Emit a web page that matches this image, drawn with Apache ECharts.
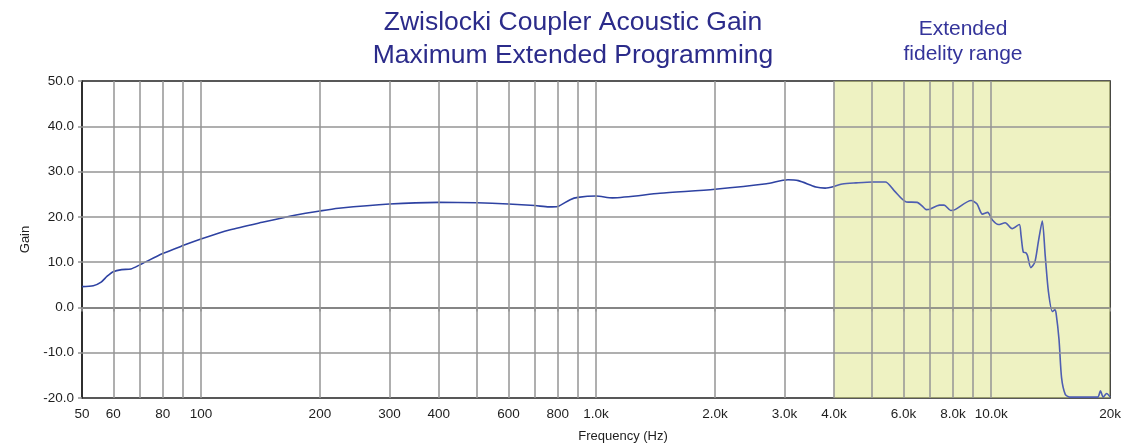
<!DOCTYPE html>
<html>
<head>
<meta charset="utf-8">
<script src="https://cdn.jsdelivr.net/npm/echarts@6/dist/echarts.min.js"></script>
<style>
  html, body { margin: 0; padding: 0; background: #ffffff; }
  #chart { width: 1124px; height: 444px; }
</style>
</head>
<body>
<div id="chart"></div>
<script>
// Frequency response of the coupler gain (Hz, dB)
const freqHz = [50, 53.4, 55.9, 57.9, 60, 63, 66.5, 70, 80, 90,
  100, 118, 143, 174, 200, 223, 300, 400, 500, 600,
  700, 760, 800, 860, 900, 1000, 1100, 1450, 2000, 2700,
  3060, 3250, 3600, 3800, 4000, 4200, 4550, 5000, 5400, 5680,
  6100, 6500, 6670, 6850, 7000, 7400, 7600, 7900, 8100, 8900,
  9200, 9500, 9800, 10070, 10430, 10850, 11300, 11780, 11900, 12060,
  12230, 12350, 12600, 12900, 13160, 13470, 13700, 13960, 14280, 14500,
  14600, 14850, 15070, 15400, 15800, 18600, 18900, 19200, 19600, 20000];
const gainDb = [4.6, 4.8, 5.6, 6.9, 7.9, 8.35, 8.5, 9.4, 11.9, 13.65,
  15.1, 17.1, 18.8, 20.4, 21.3, 21.9, 22.85, 23.2, 23.1, 22.85,
  22.5, 22.2, 22.3, 23.8, 24.3, 24.6, 24.2, 25.2, 26.1, 27.3,
  28.2, 28.0, 26.6, 26.35, 26.7, 27.25, 27.5, 27.7, 27.7, 25.8,
  23.3, 23.2, 22.5, 21.6, 21.7, 22.6, 22.6, 21.4, 21.6, 23.6,
  22.9, 20.6, 21.0, 19.3, 18.3, 18.7, 17.4, 18.3, 15.9, 12.2,
  12.1, 11.5, 8.8, 10.0, 14.4, 19.1, 11.5, 3.5, -0.9, -0.5,
  -1.3, -7.1, -15.5, -19.2, -19.8, -19.8, -18.4, -19.8, -19.0, -19.8];

// Labelled frequency ticks and their text
const tickFreqs = [50, 60, 80, 100, 200, 300, 400, 600, 800, 1000, 2000, 3000, 4000, 6000, 8000, 10000, 20000];
const tickLabels = ['50', '60', '80', '100', '200', '300', '400', '600', '800', '1.0k', '2.0k', '3.0k', '4.0k', '6.0k', '8.0k', '10.0k', '20k'];
// Vertical grid lines
const gridFreqs = [60, 70, 80, 90, 100, 200, 300, 400, 500, 600, 700, 800, 900, 1000, 2000, 3000, 4000, 5000, 6000, 7000, 8000, 9000, 10000];
// Horizontal grid lines
const gainTicks = [-10, 0, 10, 20, 30, 40];
// Extended fidelity band
const extendedRange = [4000, 20000];

const gridColor = '#949494';
const textFont = '"Liberation Sans", Arial, sans-serif';
const chart = echarts.init(document.getElementById('chart'), null, { renderer: 'canvas' });

const curve = freqHz.map((f, i) => [f, gainDb[i]]);
// The response is drawn in two parts that meet at the start of the band
const curveMain = curve.filter(p => p[0] <= extendedRange[0]);
const curveExtended = curve.filter(p => p[0] >= extendedRange[0]);

function labelFor(v) {
  let best = 0;
  for (let i = 0; i < tickFreqs.length; i++) {
    if (Math.abs(Math.log10(tickFreqs[i] / v)) < Math.abs(Math.log10(tickFreqs[best] / v))) best = i;
  }
  return tickLabels[best];
}

const option = {
  animation: false,
  grid: {
    left: 82, right: 12, top: 81, bottom: 46,
    show: true, borderColor: '#222222', borderWidth: 1.5, backgroundColor: 'transparent'
  },
  xAxis: {
    type: 'log', logBase: 10, min: 50, max: 20000,
    axisLine: { show: true, lineStyle: { color: '#222222', width: 1.5 } },
    axisTick: { show: true, length: 4, lineStyle: { color: gridColor, width: 1.5 },
      customValues: tickFreqs.concat(gridFreqs) },
    axisLabel: {
      customValues: tickFreqs,
      margin: 9, color: '#1e1e1e', fontSize: 13.5, fontFamily: textFont,
      formatter: labelFor
    },
    splitLine: { show: false },
    minorTick: { show: false }
  },
  yAxis: {
    type: 'value', min: -20, max: 50, interval: 10,
    name: 'Gain', nameLocation: 'middle', nameRotate: 90, nameGap: 49,
    nameTextStyle: { color: '#1e1e1e', fontSize: 13, fontFamily: textFont },
    axisLine: { show: true, lineStyle: { color: '#222222', width: 1.5 } },
    axisTick: { show: true, length: 4, lineStyle: { color: gridColor, width: 1.5 } },
    axisLabel: {
      margin: 8, color: '#1e1e1e', fontSize: 13.5, fontFamily: textFont,
      formatter: v => v.toFixed(1)
    },
    splitLine: { show: false }
  },
  graphic: [
    { type: 'text', x: 573, y: 23, style: { text: 'Zwislocki Coupler Acoustic Gain', fill: '#2b2b8a',
      font: '26.5px ' + textFont, textAlign: 'center', textVerticalAlign: 'middle' } },
    { type: 'text', x: 573, y: 56, style: { text: 'Maximum Extended Programming', fill: '#2b2b8a',
      font: '26.5px ' + textFont, textAlign: 'center', textVerticalAlign: 'middle' } },
    { type: 'text', x: 963, y: 29, style: { text: 'Extended', fill: '#34349a',
      font: '21px ' + textFont, textAlign: 'center', textVerticalAlign: 'middle' } },
    { type: 'text', x: 963, y: 54, style: { text: 'fidelity range', fill: '#34349a',
      font: '21px ' + textFont, textAlign: 'center', textVerticalAlign: 'middle' } },
    { type: 'text', x: 623, y: 436, style: { text: 'Frequency (Hz)', fill: '#1e1e1e',
      font: '13px ' + textFont, textAlign: 'center', textVerticalAlign: 'middle' } }
  ],
  series: [
    {
      name: 'grid', type: 'line', data: [], z: 1, silent: true,
      markLine: {
        silent: true, symbol: 'none', animation: false,
        label: { show: false },
        lineStyle: { color: gridColor, width: 1.5, type: 'solid' },
        data: gridFreqs.map(f => ({ xAxis: f })).concat(gainTicks.map(g => ({ yAxis: g })))
      }
    },
    {
      name: 'band', type: 'line', data: [], z: 2, silent: true,
      markArea: {
        silent: true,
        itemStyle: { color: 'rgba(221,229,133,0.5)' },
        data: [[{ xAxis: extendedRange[0] }, { xAxis: extendedRange[1] }]]
      }
    },
    {
      name: 'Gain', type: 'line', data: curveMain, z: 3,
      showSymbol: false, smooth: 0.25,
      lineStyle: { color: '#2e42a2', width: 1.6 }
    },
    {
      name: 'Gain (extended)', type: 'line', data: curveExtended, z: 3,
      showSymbol: false, smooth: 0.25,
      lineStyle: { color: '#4e5eb2', width: 1.6 }
    }
  ]
};
chart.setOption(option);
</script>
</body>
</html>
